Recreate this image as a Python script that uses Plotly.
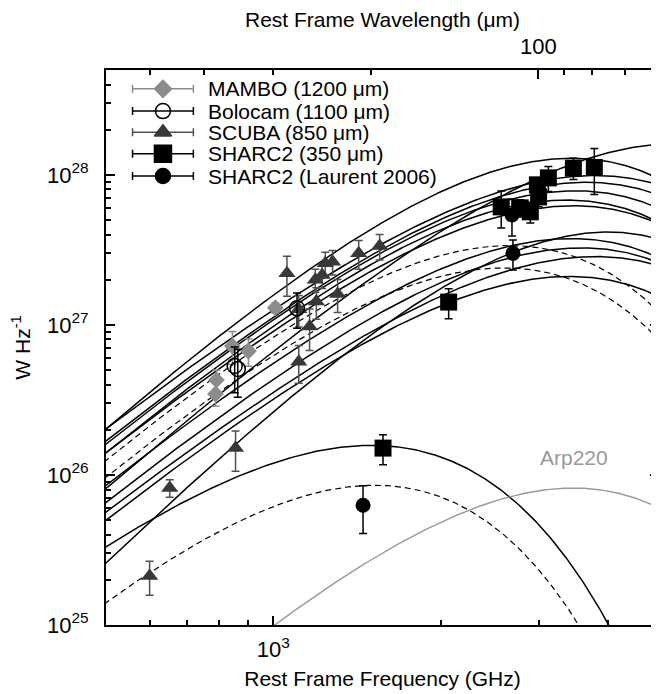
import numpy as np
import plotly.graph_objects as go

# ---------------- data points (rest frame frequency in GHz, luminosity in W/Hz) ----------------
mambo_nu = [1008, 844, 902, 790, 787]
mambo_L = [1.30e27, 7.24e26, 6.70e26, 4.30e26, 3.47e26]
mambo_err = [1.0e26, 1.8e26, 1.4e26, 0.7e26, 0.6e26]

bolo_nu = [1103, 852, 863]
bolo_L = [1.29e27, 5.33e26, 5.09e26]
bolo_err = [3.4e26, 1.8e26, 1.8e26]

scuba_nu = [1058, 1111, 1162, 1111, 1195, 1190, 1224, 1240, 1278, 1305, 1424, 1553, 855, 651, 599]
scuba_L = [2.21e27, 1.27e27, 9.75e26, 5.69e26, 1.43e27, 2.0e27, 2.15e27, 2.58e27, 2.64e27,
           1.61e27, 3.0e27, 3.36e27, 1.51e26, 8.2e25, 2.12e25]
scuba_err = [6.6e26, 3.0e26, 3.0e26, 1.6e26, 3.4e26, 3.5e26, 4.0e26, 4.7e26, 4.9e26,
             4.0e26, 6.5e26, 6.5e26, 4.5e25, 1.1e25, 5.4e24]

sharc_nu = [2570, 2780, 2899, 2985, 3000, 3124, 3465, 3779, 2067, 1575]
sharc_L = [6.12e27, 6.03e27, 5.67e27, 8.58e27, 7.13e27, 9.55e27, 1.11e28, 1.12e28, 1.42e27, 1.51e26]
sharc_err = [1.7e27, 0.8e27, 0.9e27, 1.0e27, 1.0e27, 1.8e27, 1.8e27, 3.8e27, 3.2e26, 3.4e25]

laurent_nu = [2687, 2698, 1450]
laurent_L = [5.41e27, 3.0e27, 6.28e25]
laurent_err = [1.5e27, 6.8e26, 2.2e25]

# ---------------- greybody model parameters (beta, dust temperature K, log10 scale) ----------------
solid_beta = [1.50, 1.36, 1.06, 1.20, 1.24, 1.32, 1.18, 1.20, 1.20, 1.18, 1.84, 1.08, 1.14]
solid_T = [37.2, 58.7, 45.6, 42.5, 40.2, 38.0, 40.5, 39.9, 41.6, 39.8, 40.0, 45.5, 17.7]
solid_logA = [27.619, 26.926, 27.371, 27.372, 27.395, 27.395, 27.314, 27.112, 26.974,
              26.875, 26.786, 26.823, 27.227]

dashed_beta = [1.44, 1.42, 1.56]
dashed_T = [29.1, 28.6, 16.2]
dashed_logA = [27.542, 27.435, 27.053]

arp_beta, arp_T, arp_logA = 1.50, 37.4, 25.410

# legend
legend_labels = ["MAMBO (1200 μm)", "Bolocam (1100 μm)", "SCUBA (850 μm)",
                 "SHARC2 (350 μm)", "SHARC2 (Laurent 2006)"]

H_OVER_K = 0.0479924  # K / GHz


def greybody(nu, beta, T, logA):
    nu = np.asarray(nu, float)
    return 10 ** (logA + (3 + beta) * np.log10(nu / 1000.0) - np.log10(np.expm1(H_OVER_K * nu / T)))


nu_grid = np.logspace(np.log10(480), np.log10(5200), 500)
fig = go.Figure()

for b, T, A in zip(solid_beta, solid_T, solid_logA):
    fig.add_trace(go.Scatter(x=nu_grid, y=greybody(nu_grid, b, T, A), mode="lines",
                             line=dict(color="black", width=1.5), hoverinfo="skip", showlegend=False))
for b, T, A in zip(dashed_beta, dashed_T, dashed_logA):
    fig.add_trace(go.Scatter(x=nu_grid, y=greybody(nu_grid, b, T, A), mode="lines",
                             line=dict(color="black", width=1.2, dash="6px,4px"),
                             hoverinfo="skip", showlegend=False))
fig.add_trace(go.Scatter(x=nu_grid, y=greybody(nu_grid, arp_beta, arp_T, arp_logA), mode="lines",
                         line=dict(color="#999999", width=1.4), hoverinfo="skip", showlegend=False))

MAMBO_C = "#8c8c8c"
SCUBA_C = "#383838"
SCUBA_E = "#505050"


def err(arr, color):
    return dict(type="data", array=arr, visible=True, color=color, thickness=1.5, width=4)


fig.add_trace(go.Scatter(x=mambo_nu, y=mambo_L, mode="markers", error_y=err(mambo_err, MAMBO_C),
                         marker=dict(symbol="diamond", size=13, color=MAMBO_C), showlegend=False))
fig.add_trace(go.Scatter(x=scuba_nu, y=scuba_L, mode="markers", error_y=err(scuba_err, SCUBA_E),
                         marker=dict(symbol="triangle-up", size=15, color=SCUBA_C), showlegend=False))
fig.add_trace(go.Scatter(x=bolo_nu, y=bolo_L, mode="markers", error_y=err(bolo_err, "black"),
                         marker=dict(symbol="circle-open", size=15, color="black", line=dict(width=1.5)),
                         showlegend=False))
fig.add_trace(go.Scatter(x=sharc_nu, y=sharc_L, mode="markers", error_y=err(sharc_err, "black"),
                         marker=dict(symbol="square", size=17, color="black"), showlegend=False))
fig.add_trace(go.Scatter(x=laurent_nu, y=laurent_L, mode="markers", error_y=err(laurent_err, "black"),
                         marker=dict(symbol="circle", size=15, color="black"), showlegend=False))

# invisible trace so the top (wavelength) axis is drawn
fig.add_trace(go.Scatter(x=[1000], y=[1e26], xaxis="x2", mode="markers",
                         marker=dict(opacity=0), hoverinfo="skip", showlegend=False))

# ---------------- hand-made legend with error-bar symbols (hidden unit axes) ----------------
legend_y = [0.966, 0.926, 0.888, 0.849, 0.809]
legend_style = [
    dict(symbol="diamond", size=13, color=MAMBO_C, ecolor=MAMBO_C),
    dict(symbol="circle-open", size=15, color="black", ecolor="black"),
    dict(symbol="triangle-up", size=15, color=SCUBA_C, ecolor=SCUBA_E),
    dict(symbol="square", size=17, color="black", ecolor="black"),
    dict(symbol="circle", size=15, color="black", ecolor="black"),
]
for lab, yy, st in zip(legend_labels, legend_y, legend_style):
    fig.add_trace(go.Scatter(x=[0.103], y=[yy], xaxis="x3", yaxis="y3", mode="markers",
                             error_x=dict(type="constant", value=0.055, color=st["ecolor"],
                                          thickness=1.5, width=4),
                             marker=dict(symbol=st["symbol"], size=st["size"], color=st["color"],
                                         line=dict(width=1.5, color=st["color"])),
                             hoverinfo="skip", showlegend=False))
    fig.add_annotation(x=0.18, y=yy, xref="paper", yref="paper", text=lab, showarrow=False,
                       xanchor="left", yanchor="middle", font=dict(size=21, color="black"))

fig.add_annotation(x=0.846, y=0.301, xref="paper", yref="paper", text="Arp220", showarrow=False,
                   xanchor="center", yanchor="middle", font=dict(size=21, color="#999999"))

FONT = "Liberation Sans, Arial, Helvetica, sans-serif"
y_minor = [k * 10.0 ** e for e in range(25, 29) for k in range(2, 10) if k * 10.0 ** e < 4.9e28]
lam_minor = [500, 400, 300, 200, 90, 80, 70]
XR = [np.log10(500), np.log10(4940)]

tick_common = dict(ticks="inside", ticklen=9, tickwidth=1.5, tickcolor="black",
                   showline=True, linewidth=2, linecolor="black",
                   showgrid=False, zeroline=False, automargin=False)

fig.update_layout(
    template="none",
    width=651, height=686,
    margin=dict(l=98, r=0, t=62, b=69, pad=0),
    paper_bgcolor="white", plot_bgcolor="white",
    font=dict(family=FONT, size=21, color="black"),
    showlegend=False,
    xaxis=dict(type="log", range=XR, tickvals=[1000], ticktext=["10<sup>3</sup>"],
               minor=dict(tickvals=[600, 700, 800, 900, 2000, 3000, 4000], ticklen=5,
                          tickwidth=1.5, tickcolor="black", ticks="inside"),
               mirror=False, tickfont=dict(size=22), ticklabelstandoff=4,
               title=dict(text="Rest Frame Frequency (GHz)", font=dict(size=21), standoff=10),
               **tick_common),
    xaxis2=dict(type="log", range=XR, overlaying="x", side="top", anchor="y",
                tickvals=[2997.9], ticktext=["100"],
                minor=dict(tickvals=[2.99792e5 / l for l in lam_minor], ticklen=5,
                           tickwidth=1.5, tickcolor="black", ticks="inside"),
                tickfont=dict(size=22), ticklabelstandoff=5,
                title=dict(text="Rest Frame Wavelength (μm)", font=dict(size=21), standoff=17),
                **tick_common),
    yaxis=dict(type="log", range=[25, np.log10(5e28)],
               tickvals=[1e25, 1e26, 1e27, 1e28],
               ticktext=["10<sup>25</sup>", "10<sup>26</sup>", "10<sup>27</sup>", "10<sup>28</sup>"],
               minor=dict(tickvals=y_minor, ticklen=5, tickwidth=1.5, tickcolor="black",
                          ticks="inside"),
               mirror="ticks", tickfont=dict(size=22), ticklabelstandoff=11,
               title=dict(text="W Hz<sup>-1</sup>", font=dict(size=21), standoff=13),
               **tick_common),
    xaxis3=dict(range=[0, 1], overlaying="x", anchor="y3", visible=False, fixedrange=True),
    yaxis3=dict(range=[0, 1], overlaying="y", anchor="x3", visible=False, fixedrange=True),
)

fig.write_html("out.html")
